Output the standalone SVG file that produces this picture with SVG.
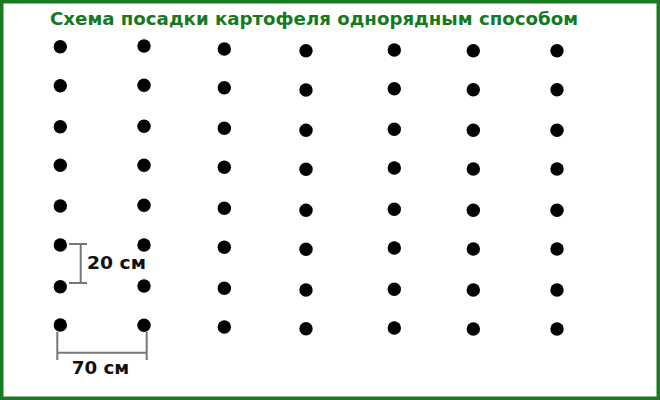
<svg xmlns="http://www.w3.org/2000/svg" width="660" height="400" viewBox="0 0 660 400">
<style>
.dot{fill:#000}
.dim{stroke:#777;stroke-width:2;fill:none}
.title{font-family:"DejaVu Sans","Liberation Sans",sans-serif;font-weight:bold;font-size:18px;fill:#157a1f}
.lbl{font-family:"DejaVu Sans","Liberation Sans",sans-serif;font-weight:bold;font-size:18px;fill:#111}
</style>
<rect x="0" y="0" width="660" height="400" fill="#fff"/>
<rect x="1.75" y="1.75" width="656.5" height="396.5" fill="none" stroke="#1a7a22" stroke-width="3.5"/>
<text class="title" x="50" y="25" textLength="528" lengthAdjust="spacingAndGlyphs">Схема посадки картофеля однорядным способом</text>
<g id="col1">
<circle class="dot" cx="60.3" cy="46.7" r="6.7"/>
<circle class="dot" cx="60.3" cy="85.7" r="6.7"/>
<circle class="dot" cx="60.3" cy="126.7" r="6.7"/>
<circle class="dot" cx="60.3" cy="165.3" r="6.7"/>
<circle class="dot" cx="60.3" cy="206" r="6.7"/>
<circle class="dot" cx="60.3" cy="245" r="6.7"/>
<circle class="dot" cx="60.3" cy="286.7" r="6.7"/>
<circle class="dot" cx="60.3" cy="325" r="6.7"/>
</g>
<g id="col2">
<circle class="dot" cx="144" cy="46" r="6.7"/>
<circle class="dot" cx="144" cy="85.3" r="6.7"/>
<circle class="dot" cx="144" cy="126.3" r="6.7"/>
<circle class="dot" cx="144" cy="165.3" r="6.7"/>
<circle class="dot" cx="144" cy="205.3" r="6.7"/>
<circle class="dot" cx="144" cy="245" r="6.7"/>
<circle class="dot" cx="144" cy="286" r="6.7"/>
<circle class="dot" cx="144" cy="325.3" r="6.7"/>
</g>
<g id="col3">
<circle class="dot" cx="224.3" cy="49" r="6.7"/>
<circle class="dot" cx="224.3" cy="87.7" r="6.7"/>
<circle class="dot" cx="224.3" cy="128.3" r="6.7"/>
<circle class="dot" cx="224.3" cy="167.3" r="6.7"/>
<circle class="dot" cx="224.3" cy="208.3" r="6.7"/>
<circle class="dot" cx="224.3" cy="247.3" r="6.7"/>
<circle class="dot" cx="224.3" cy="288.3" r="6.7"/>
<circle class="dot" cx="224.3" cy="327" r="6.7"/>
</g>
<g id="col4">
<circle class="dot" cx="306" cy="50.7" r="6.7"/>
<circle class="dot" cx="306" cy="90" r="6.7"/>
<circle class="dot" cx="306" cy="130.3" r="6.7"/>
<circle class="dot" cx="306" cy="169.3" r="6.7"/>
<circle class="dot" cx="306" cy="210.3" r="6.7"/>
<circle class="dot" cx="306" cy="249.3" r="6.7"/>
<circle class="dot" cx="306" cy="290" r="6.7"/>
<circle class="dot" cx="306" cy="328.7" r="6.7"/>
</g>
<g id="col5">
<circle class="dot" cx="394.3" cy="50" r="6.7"/>
<circle class="dot" cx="394.3" cy="88.7" r="6.7"/>
<circle class="dot" cx="394.3" cy="129.3" r="6.7"/>
<circle class="dot" cx="394.3" cy="168" r="6.7"/>
<circle class="dot" cx="394.3" cy="209.3" r="6.7"/>
<circle class="dot" cx="394.3" cy="248" r="6.7"/>
<circle class="dot" cx="394.3" cy="289.3" r="6.7"/>
<circle class="dot" cx="394.3" cy="328" r="6.7"/>
</g>
<g id="col6">
<circle class="dot" cx="473.3" cy="50.7" r="6.7"/>
<circle class="dot" cx="473.3" cy="89.7" r="6.7"/>
<circle class="dot" cx="473.3" cy="130.3" r="6.7"/>
<circle class="dot" cx="473.3" cy="169" r="6.7"/>
<circle class="dot" cx="473.3" cy="210.3" r="6.7"/>
<circle class="dot" cx="473.3" cy="249" r="6.7"/>
<circle class="dot" cx="473.3" cy="290" r="6.7"/>
<circle class="dot" cx="473.3" cy="329" r="6.7"/>
</g>
<g id="col7">
<circle class="dot" cx="557" cy="50.7" r="6.7"/>
<circle class="dot" cx="557" cy="89.7" r="6.7"/>
<circle class="dot" cx="557" cy="130.3" r="6.7"/>
<circle class="dot" cx="557" cy="169" r="6.7"/>
<circle class="dot" cx="557" cy="210.3" r="6.7"/>
<circle class="dot" cx="557" cy="249" r="6.7"/>
<circle class="dot" cx="557" cy="290" r="6.7"/>
<circle class="dot" cx="557" cy="329" r="6.7"/>
</g>
<g id="dim-row">
<path class="dim" d="M69 244H87M80.7 244V283M69 283H87"/>
<text class="lbl" x="87" y="269" textLength="59" lengthAdjust="spacingAndGlyphs">20 см</text>
</g>
<g id="dim-col">
<path class="dim" d="M57.3 332V360M146.7 332V360M57.3 352.7H146.7"/>
<text class="lbl" x="71.7" y="374" textLength="57.6" lengthAdjust="spacingAndGlyphs">70 см</text>
</g>
</svg>
